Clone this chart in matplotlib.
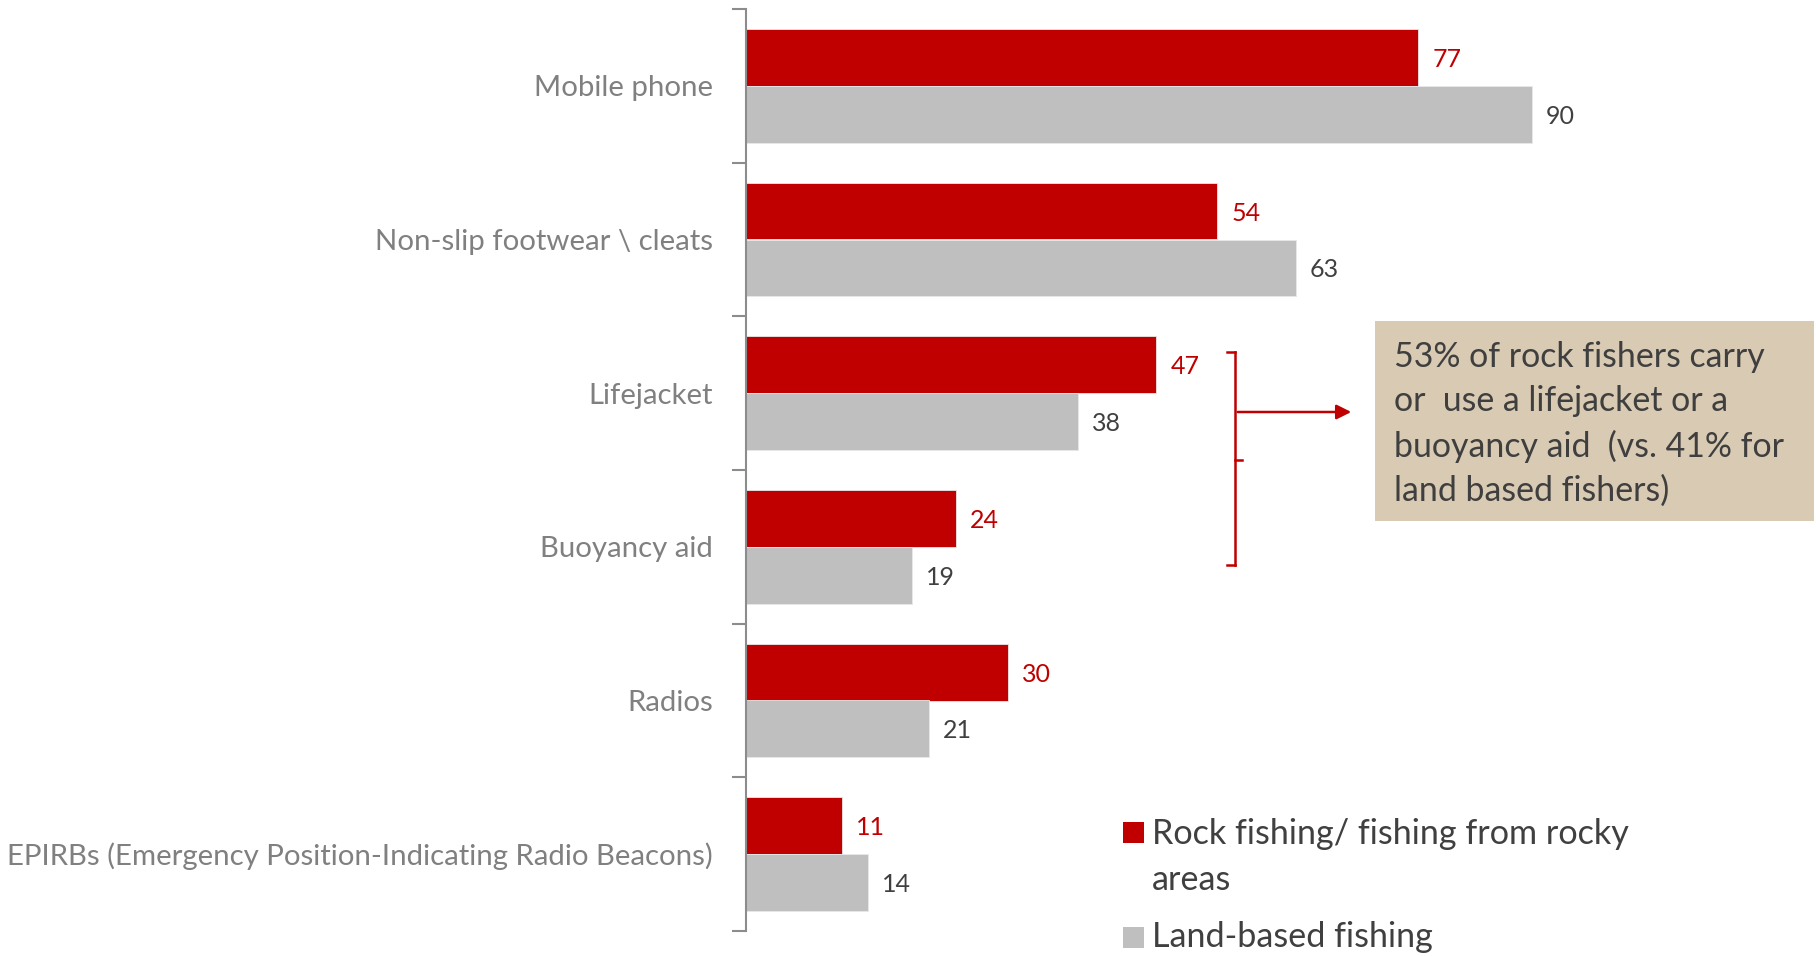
import matplotlib
matplotlib.use("Agg")
import matplotlib.pyplot as plt
from matplotlib.patches import Rectangle, FancyArrowPatch
from matplotlib.lines import Line2D
import numpy as np

plt.rcParams['font.family'] = ['Lato', 'DejaVu Sans']

categories = ["Mobile phone", "Non-slip footwear \\ cleats", "Lifejacket",
              "Buoyancy aid", "Radios",
              "EPIRBs (Emergency Position-Indicating Radio Beacons)"]
rock = [77, 54, 47, 24, 30, 11]
land = [90, 63, 38, 19, 21, 14]
series_names = ["Rock fishing/ fishing from rocky\nareas", "Land-based fishing"]
note = "53% of rock fishers carry\nor  use a lifejacket or a\nbuoyancy aid  (vs. 41% for\nland based fishers)"

RED = "#C00000"
GRAY = "#BFBFBF"
W, H = 1816, 956
fig = plt.figure(figsize=(W / 100, H / 100), dpi=100)

def fx(px):
    return px / W

def fy(py):
    return 1 - py / H

ax = fig.add_axes([fx(746), fy(931), fx(1816) - fx(746), fy(9) - fy(931)])
y = np.arange(len(categories))
bh = 0.37
ax.barh(y - bh / 2, rock, height=bh, color=RED, edgecolor="#E8E8E8", linewidth=0.6)
ax.barh(y + bh / 2, land, height=bh, color=GRAY, edgecolor="#E8E8E8", linewidth=0.6)
ax.set_ylim(len(categories) - 0.5, -0.5)
ax.set_xlim(0, 1070 / 8.73)

for yi, v in zip(y, rock):
    ax.text(v + 1.6, yi - bh / 2, str(v), color=RED, fontsize=18,
            va="center_baseline", ha="left")
for yi, v in zip(y, land):
    ax.text(v + 1.6, yi + bh / 2, str(v), color="#404040", fontsize=18,
            va="center_baseline", ha="left")

ax.set_yticks(y)
ax.set_yticklabels(categories, fontsize=21.2, color="#808080")
ax.tick_params(axis="y", which="major", length=0, pad=24)
ax.set_yticks(np.arange(-0.5, len(categories)), minor=True)
ax.tick_params(axis="y", which="minor", length=10, width=1.5, color="#8C8C8C")
ax.set_xticks([])
for s in ["top", "right", "bottom"]:
    ax.spines[s].set_visible(False)
ax.spines["left"].set_color("#8C8C8C")
ax.spines["left"].set_linewidth(1.5)

# bracket and arrow
bx, top, bot, mid, ay = 1235, 352, 565, 460, 412
lw = 1.8
fig.add_artist(Line2D([fx(bx), fx(bx)], [fy(top), fy(bot)], color=RED, lw=lw))
fig.add_artist(Line2D([fx(bx - 8), fx(bx)], [fy(top), fy(top)], color=RED, lw=lw))
fig.add_artist(Line2D([fx(bx - 8), fx(bx)], [fy(bot), fy(bot)], color=RED, lw=lw))
fig.add_artist(Line2D([fx(bx), fx(bx + 7)], [fy(mid), fy(mid)], color=RED, lw=lw))
fig.add_artist(FancyArrowPatch((fx(bx), fy(ay)), (fx(1354), fy(ay)),
                               transform=fig.transFigure, arrowstyle="-|>",
                               mutation_scale=22, color=RED, lw=lw))

# note box
fig.add_artist(Rectangle((fx(1375), fy(521)), fx(1814) - fx(1375), fy(321) - fy(521),
                         transform=fig.transFigure, facecolor="#D9CAB3", edgecolor="none"))
fig.text(fx(1394), fy(424), note, fontsize=24.4, color="#3F3F3F", va="center", ha="left",
         linespacing=1.46)

# legend
fig.add_artist(Rectangle((fx(1123), fy(843)), fx(21), fy(822) - fy(843),
                         transform=fig.transFigure, facecolor=RED, edgecolor="none"))
fig.add_artist(Rectangle((fx(1123), fy(948)), fx(21), fy(927) - fy(948),
                         transform=fig.transFigure, facecolor=GRAY, edgecolor="none"))
fig.text(fx(1152), fy(857), series_names[0], fontsize=24.6, color="#404040", va="center",
         ha="left", linespacing=1.52)
fig.text(fx(1152), fy(937), series_names[1], fontsize=24.6, color="#404040", va="center",
         ha="left")

fig.savefig("out.png", dpi=100)
